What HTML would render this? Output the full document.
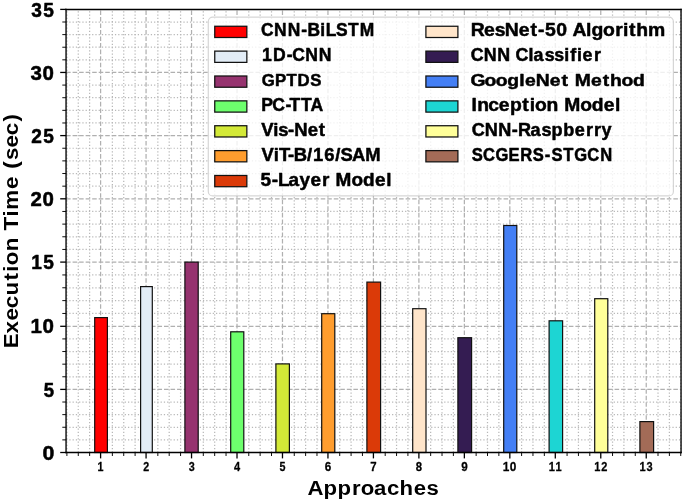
<!DOCTYPE html>
<html><head><meta charset="utf-8"><title>Execution Time Chart</title>
<style>html,body{margin:0;padding:0;background:#fff;} svg{display:block;will-change:transform;} text{font-family:"Liberation Sans",sans-serif;font-weight:bold;}</style>
</head><body>
<svg width="685" height="502" viewBox="0 0 685 502">
<rect x="0" y="0" width="685" height="502" fill="#fff"/>
<g><line x1="66.90" y1="452.50" x2="66.90" y2="9.45" stroke="#b8b8b8" stroke-width="1.23" stroke-dasharray="1.23 2.03"/><line x1="78.27" y1="452.50" x2="78.27" y2="9.45" stroke="#b8b8b8" stroke-width="1.23" stroke-dasharray="1.23 2.03"/><line x1="89.63" y1="452.50" x2="89.63" y2="9.45" stroke="#b8b8b8" stroke-width="1.23" stroke-dasharray="1.23 2.03"/><line x1="112.37" y1="452.50" x2="112.37" y2="9.45" stroke="#b8b8b8" stroke-width="1.23" stroke-dasharray="1.23 2.03"/><line x1="123.73" y1="452.50" x2="123.73" y2="9.45" stroke="#b8b8b8" stroke-width="1.23" stroke-dasharray="1.23 2.03"/><line x1="135.10" y1="452.50" x2="135.10" y2="9.45" stroke="#b8b8b8" stroke-width="1.23" stroke-dasharray="1.23 2.03"/><line x1="157.84" y1="452.50" x2="157.84" y2="9.45" stroke="#b8b8b8" stroke-width="1.23" stroke-dasharray="1.23 2.03"/><line x1="169.20" y1="452.50" x2="169.20" y2="9.45" stroke="#b8b8b8" stroke-width="1.23" stroke-dasharray="1.23 2.03"/><line x1="180.57" y1="452.50" x2="180.57" y2="9.45" stroke="#b8b8b8" stroke-width="1.23" stroke-dasharray="1.23 2.03"/><line x1="203.31" y1="452.50" x2="203.31" y2="9.45" stroke="#b8b8b8" stroke-width="1.23" stroke-dasharray="1.23 2.03"/><line x1="214.68" y1="452.50" x2="214.68" y2="9.45" stroke="#b8b8b8" stroke-width="1.23" stroke-dasharray="1.23 2.03"/><line x1="226.04" y1="452.50" x2="226.04" y2="9.45" stroke="#b8b8b8" stroke-width="1.23" stroke-dasharray="1.23 2.03"/><line x1="248.78" y1="452.50" x2="248.78" y2="9.45" stroke="#b8b8b8" stroke-width="1.23" stroke-dasharray="1.23 2.03"/><line x1="260.14" y1="452.50" x2="260.14" y2="9.45" stroke="#b8b8b8" stroke-width="1.23" stroke-dasharray="1.23 2.03"/><line x1="271.51" y1="452.50" x2="271.51" y2="9.45" stroke="#b8b8b8" stroke-width="1.23" stroke-dasharray="1.23 2.03"/><line x1="294.25" y1="452.50" x2="294.25" y2="9.45" stroke="#b8b8b8" stroke-width="1.23" stroke-dasharray="1.23 2.03"/><line x1="305.62" y1="452.50" x2="305.62" y2="9.45" stroke="#b8b8b8" stroke-width="1.23" stroke-dasharray="1.23 2.03"/><line x1="316.98" y1="452.50" x2="316.98" y2="9.45" stroke="#b8b8b8" stroke-width="1.23" stroke-dasharray="1.23 2.03"/><line x1="339.72" y1="452.50" x2="339.72" y2="9.45" stroke="#b8b8b8" stroke-width="1.23" stroke-dasharray="1.23 2.03"/><line x1="351.08" y1="452.50" x2="351.08" y2="9.45" stroke="#b8b8b8" stroke-width="1.23" stroke-dasharray="1.23 2.03"/><line x1="362.45" y1="452.50" x2="362.45" y2="9.45" stroke="#b8b8b8" stroke-width="1.23" stroke-dasharray="1.23 2.03"/><line x1="385.19" y1="452.50" x2="385.19" y2="9.45" stroke="#b8b8b8" stroke-width="1.23" stroke-dasharray="1.23 2.03"/><line x1="396.56" y1="452.50" x2="396.56" y2="9.45" stroke="#b8b8b8" stroke-width="1.23" stroke-dasharray="1.23 2.03"/><line x1="407.92" y1="452.50" x2="407.92" y2="9.45" stroke="#b8b8b8" stroke-width="1.23" stroke-dasharray="1.23 2.03"/><line x1="430.66" y1="452.50" x2="430.66" y2="9.45" stroke="#b8b8b8" stroke-width="1.23" stroke-dasharray="1.23 2.03"/><line x1="442.02" y1="452.50" x2="442.02" y2="9.45" stroke="#b8b8b8" stroke-width="1.23" stroke-dasharray="1.23 2.03"/><line x1="453.39" y1="452.50" x2="453.39" y2="9.45" stroke="#b8b8b8" stroke-width="1.23" stroke-dasharray="1.23 2.03"/><line x1="476.13" y1="452.50" x2="476.13" y2="9.45" stroke="#b8b8b8" stroke-width="1.23" stroke-dasharray="1.23 2.03"/><line x1="487.50" y1="452.50" x2="487.50" y2="9.45" stroke="#b8b8b8" stroke-width="1.23" stroke-dasharray="1.23 2.03"/><line x1="498.86" y1="452.50" x2="498.86" y2="9.45" stroke="#b8b8b8" stroke-width="1.23" stroke-dasharray="1.23 2.03"/><line x1="521.60" y1="452.50" x2="521.60" y2="9.45" stroke="#b8b8b8" stroke-width="1.23" stroke-dasharray="1.23 2.03"/><line x1="532.96" y1="452.50" x2="532.96" y2="9.45" stroke="#b8b8b8" stroke-width="1.23" stroke-dasharray="1.23 2.03"/><line x1="544.33" y1="452.50" x2="544.33" y2="9.45" stroke="#b8b8b8" stroke-width="1.23" stroke-dasharray="1.23 2.03"/><line x1="567.07" y1="452.50" x2="567.07" y2="9.45" stroke="#b8b8b8" stroke-width="1.23" stroke-dasharray="1.23 2.03"/><line x1="578.43" y1="452.50" x2="578.43" y2="9.45" stroke="#b8b8b8" stroke-width="1.23" stroke-dasharray="1.23 2.03"/><line x1="589.80" y1="452.50" x2="589.80" y2="9.45" stroke="#b8b8b8" stroke-width="1.23" stroke-dasharray="1.23 2.03"/><line x1="612.54" y1="452.50" x2="612.54" y2="9.45" stroke="#b8b8b8" stroke-width="1.23" stroke-dasharray="1.23 2.03"/><line x1="623.90" y1="452.50" x2="623.90" y2="9.45" stroke="#b8b8b8" stroke-width="1.23" stroke-dasharray="1.23 2.03"/><line x1="635.27" y1="452.50" x2="635.27" y2="9.45" stroke="#b8b8b8" stroke-width="1.23" stroke-dasharray="1.23 2.03"/><line x1="658.01" y1="452.50" x2="658.01" y2="9.45" stroke="#b8b8b8" stroke-width="1.23" stroke-dasharray="1.23 2.03"/><line x1="669.38" y1="452.50" x2="669.38" y2="9.45" stroke="#b8b8b8" stroke-width="1.23" stroke-dasharray="1.23 2.03"/><line x1="680.74" y1="452.50" x2="680.74" y2="9.45" stroke="#b8b8b8" stroke-width="1.23" stroke-dasharray="1.23 2.03"/><line x1="66.05" y1="439.88" x2="681.05" y2="439.88" stroke="#b8b8b8" stroke-width="1.23" stroke-dasharray="1.23 2.03"/><line x1="66.05" y1="427.26" x2="681.05" y2="427.26" stroke="#b8b8b8" stroke-width="1.23" stroke-dasharray="1.23 2.03"/><line x1="66.05" y1="414.64" x2="681.05" y2="414.64" stroke="#b8b8b8" stroke-width="1.23" stroke-dasharray="1.23 2.03"/><line x1="66.05" y1="402.02" x2="681.05" y2="402.02" stroke="#b8b8b8" stroke-width="1.23" stroke-dasharray="1.23 2.03"/><line x1="66.05" y1="376.78" x2="681.05" y2="376.78" stroke="#b8b8b8" stroke-width="1.23" stroke-dasharray="1.23 2.03"/><line x1="66.05" y1="364.16" x2="681.05" y2="364.16" stroke="#b8b8b8" stroke-width="1.23" stroke-dasharray="1.23 2.03"/><line x1="66.05" y1="351.54" x2="681.05" y2="351.54" stroke="#b8b8b8" stroke-width="1.23" stroke-dasharray="1.23 2.03"/><line x1="66.05" y1="338.92" x2="681.05" y2="338.92" stroke="#b8b8b8" stroke-width="1.23" stroke-dasharray="1.23 2.03"/><line x1="66.05" y1="313.46" x2="681.05" y2="313.46" stroke="#b8b8b8" stroke-width="1.23" stroke-dasharray="1.23 2.03"/><line x1="66.05" y1="300.62" x2="681.05" y2="300.62" stroke="#b8b8b8" stroke-width="1.23" stroke-dasharray="1.23 2.03"/><line x1="66.05" y1="287.78" x2="681.05" y2="287.78" stroke="#b8b8b8" stroke-width="1.23" stroke-dasharray="1.23 2.03"/><line x1="66.05" y1="274.94" x2="681.05" y2="274.94" stroke="#b8b8b8" stroke-width="1.23" stroke-dasharray="1.23 2.03"/><line x1="66.05" y1="249.44" x2="681.05" y2="249.44" stroke="#b8b8b8" stroke-width="1.23" stroke-dasharray="1.23 2.03"/><line x1="66.05" y1="236.78" x2="681.05" y2="236.78" stroke="#b8b8b8" stroke-width="1.23" stroke-dasharray="1.23 2.03"/><line x1="66.05" y1="224.12" x2="681.05" y2="224.12" stroke="#b8b8b8" stroke-width="1.23" stroke-dasharray="1.23 2.03"/><line x1="66.05" y1="211.46" x2="681.05" y2="211.46" stroke="#b8b8b8" stroke-width="1.23" stroke-dasharray="1.23 2.03"/><line x1="66.05" y1="186.16" x2="681.05" y2="186.16" stroke="#b8b8b8" stroke-width="1.23" stroke-dasharray="1.23 2.03"/><line x1="66.05" y1="173.52" x2="681.05" y2="173.52" stroke="#b8b8b8" stroke-width="1.23" stroke-dasharray="1.23 2.03"/><line x1="66.05" y1="160.88" x2="681.05" y2="160.88" stroke="#b8b8b8" stroke-width="1.23" stroke-dasharray="1.23 2.03"/><line x1="66.05" y1="148.24" x2="681.05" y2="148.24" stroke="#b8b8b8" stroke-width="1.23" stroke-dasharray="1.23 2.03"/><line x1="66.05" y1="122.97" x2="681.05" y2="122.97" stroke="#b8b8b8" stroke-width="1.23" stroke-dasharray="1.23 2.03"/><line x1="66.05" y1="110.34" x2="681.05" y2="110.34" stroke="#b8b8b8" stroke-width="1.23" stroke-dasharray="1.23 2.03"/><line x1="66.05" y1="97.71" x2="681.05" y2="97.71" stroke="#b8b8b8" stroke-width="1.23" stroke-dasharray="1.23 2.03"/><line x1="66.05" y1="85.08" x2="681.05" y2="85.08" stroke="#b8b8b8" stroke-width="1.23" stroke-dasharray="1.23 2.03"/><line x1="66.05" y1="59.84" x2="681.05" y2="59.84" stroke="#b8b8b8" stroke-width="1.23" stroke-dasharray="1.23 2.03"/><line x1="66.05" y1="47.23" x2="681.05" y2="47.23" stroke="#b8b8b8" stroke-width="1.23" stroke-dasharray="1.23 2.03"/><line x1="66.05" y1="34.62" x2="681.05" y2="34.62" stroke="#b8b8b8" stroke-width="1.23" stroke-dasharray="1.23 2.03"/><line x1="66.05" y1="22.01" x2="681.05" y2="22.01" stroke="#b8b8b8" stroke-width="1.23" stroke-dasharray="1.23 2.03"/><line x1="100.60" y1="452.50" x2="100.60" y2="9.45" stroke="#b0b0b0" stroke-width="1.23" stroke-dasharray="4.56 1.97"/><line x1="146.07" y1="452.50" x2="146.07" y2="9.45" stroke="#b0b0b0" stroke-width="1.23" stroke-dasharray="4.56 1.97"/><line x1="191.54" y1="452.50" x2="191.54" y2="9.45" stroke="#b0b0b0" stroke-width="1.23" stroke-dasharray="4.56 1.97"/><line x1="237.01" y1="452.50" x2="237.01" y2="9.45" stroke="#b0b0b0" stroke-width="1.23" stroke-dasharray="4.56 1.97"/><line x1="282.48" y1="452.50" x2="282.48" y2="9.45" stroke="#b0b0b0" stroke-width="1.23" stroke-dasharray="4.56 1.97"/><line x1="327.95" y1="452.50" x2="327.95" y2="9.45" stroke="#b0b0b0" stroke-width="1.23" stroke-dasharray="4.56 1.97"/><line x1="373.42" y1="452.50" x2="373.42" y2="9.45" stroke="#b0b0b0" stroke-width="1.23" stroke-dasharray="4.56 1.97"/><line x1="418.89" y1="452.50" x2="418.89" y2="9.45" stroke="#b0b0b0" stroke-width="1.23" stroke-dasharray="4.56 1.97"/><line x1="464.36" y1="452.50" x2="464.36" y2="9.45" stroke="#b0b0b0" stroke-width="1.23" stroke-dasharray="4.56 1.97"/><line x1="509.83" y1="452.50" x2="509.83" y2="9.45" stroke="#b0b0b0" stroke-width="1.23" stroke-dasharray="4.56 1.97"/><line x1="555.30" y1="452.50" x2="555.30" y2="9.45" stroke="#b0b0b0" stroke-width="1.23" stroke-dasharray="4.56 1.97"/><line x1="600.77" y1="452.50" x2="600.77" y2="9.45" stroke="#b0b0b0" stroke-width="1.23" stroke-dasharray="4.56 1.97"/><line x1="646.24" y1="452.50" x2="646.24" y2="9.45" stroke="#b0b0b0" stroke-width="1.23" stroke-dasharray="4.56 1.97"/><line x1="66.05" y1="389.40" x2="681.05" y2="389.40" stroke="#b0b0b0" stroke-width="1.23" stroke-dasharray="4.56 1.97"/><line x1="66.05" y1="326.30" x2="681.05" y2="326.30" stroke="#b0b0b0" stroke-width="1.23" stroke-dasharray="4.56 1.97"/><line x1="66.05" y1="262.10" x2="681.05" y2="262.10" stroke="#b0b0b0" stroke-width="1.23" stroke-dasharray="4.56 1.97"/><line x1="66.05" y1="198.80" x2="681.05" y2="198.80" stroke="#b0b0b0" stroke-width="1.23" stroke-dasharray="4.56 1.97"/><line x1="66.05" y1="135.60" x2="681.05" y2="135.60" stroke="#b0b0b0" stroke-width="1.23" stroke-dasharray="4.56 1.97"/><line x1="66.05" y1="72.45" x2="681.05" y2="72.45" stroke="#b0b0b0" stroke-width="1.23" stroke-dasharray="4.56 1.97"/></g>
<rect x="94.70" y="317.60" width="12.70" height="134.90" fill="#ff0000" stroke="#111" stroke-width="1.2"/>
<rect x="140.60" y="286.60" width="11.70" height="165.90" fill="#e2ecf6" stroke="#111" stroke-width="1.2"/>
<rect x="184.90" y="262.10" width="13.30" height="190.40" fill="#96336f" stroke="#111" stroke-width="1.2"/>
<rect x="230.70" y="331.80" width="13.10" height="120.70" fill="#6dff6d" stroke="#111" stroke-width="1.2"/>
<rect x="275.90" y="363.90" width="13.50" height="88.60" fill="#d3e937" stroke="#111" stroke-width="1.2"/>
<rect x="321.70" y="313.70" width="13.10" height="138.80" fill="#ff9d2e" stroke="#111" stroke-width="1.2"/>
<rect x="366.90" y="282.10" width="13.70" height="170.40" fill="#db3a08" stroke="#111" stroke-width="1.2"/>
<rect x="412.70" y="308.70" width="13.30" height="143.80" fill="#ffe5ca" stroke="#111" stroke-width="1.2"/>
<rect x="457.90" y="337.70" width="13.70" height="114.80" fill="#341c52" stroke="#111" stroke-width="1.2"/>
<rect x="503.70" y="225.50" width="13.10" height="227.00" fill="#447ff5" stroke="#111" stroke-width="1.2"/>
<rect x="549.10" y="320.80" width="13.50" height="131.70" fill="#1dd5d3" stroke="#111" stroke-width="1.2"/>
<rect x="594.70" y="298.70" width="13.10" height="153.80" fill="#ffff99" stroke="#111" stroke-width="1.2"/>
<rect x="639.90" y="421.60" width="13.70" height="30.90" fill="#a36b57" stroke="#111" stroke-width="1.2"/>
<g stroke="#000" stroke-width="1.35" stroke-linecap="square"><line x1="66.05" y1="9.45" x2="66.05" y2="452.5"/><line x1="681.05" y1="9.45" x2="681.05" y2="452.5"/><line x1="66.05" y1="9.45" x2="681.05" y2="9.45"/><line x1="66.05" y1="452.5" x2="681.05" y2="452.5"/></g>
<g><line x1="60.2" y1="452.50" x2="66.05" y2="452.50" stroke="#000" stroke-width="1.3"/><line x1="60.2" y1="389.40" x2="66.05" y2="389.40" stroke="#000" stroke-width="1.3"/><line x1="60.2" y1="326.30" x2="66.05" y2="326.30" stroke="#000" stroke-width="1.3"/><line x1="60.2" y1="262.10" x2="66.05" y2="262.10" stroke="#000" stroke-width="1.3"/><line x1="60.2" y1="198.80" x2="66.05" y2="198.80" stroke="#000" stroke-width="1.3"/><line x1="60.2" y1="135.60" x2="66.05" y2="135.60" stroke="#000" stroke-width="1.3"/><line x1="60.2" y1="72.45" x2="66.05" y2="72.45" stroke="#000" stroke-width="1.3"/><line x1="60.2" y1="9.40" x2="66.05" y2="9.40" stroke="#000" stroke-width="1.3"/><line x1="62.3" y1="439.88" x2="66.05" y2="439.88" stroke="#000" stroke-width="0.95"/><line x1="62.3" y1="427.26" x2="66.05" y2="427.26" stroke="#000" stroke-width="0.95"/><line x1="62.3" y1="414.64" x2="66.05" y2="414.64" stroke="#000" stroke-width="0.95"/><line x1="62.3" y1="402.02" x2="66.05" y2="402.02" stroke="#000" stroke-width="0.95"/><line x1="62.3" y1="376.78" x2="66.05" y2="376.78" stroke="#000" stroke-width="0.95"/><line x1="62.3" y1="364.16" x2="66.05" y2="364.16" stroke="#000" stroke-width="0.95"/><line x1="62.3" y1="351.54" x2="66.05" y2="351.54" stroke="#000" stroke-width="0.95"/><line x1="62.3" y1="338.92" x2="66.05" y2="338.92" stroke="#000" stroke-width="0.95"/><line x1="62.3" y1="313.46" x2="66.05" y2="313.46" stroke="#000" stroke-width="0.95"/><line x1="62.3" y1="300.62" x2="66.05" y2="300.62" stroke="#000" stroke-width="0.95"/><line x1="62.3" y1="287.78" x2="66.05" y2="287.78" stroke="#000" stroke-width="0.95"/><line x1="62.3" y1="274.94" x2="66.05" y2="274.94" stroke="#000" stroke-width="0.95"/><line x1="62.3" y1="249.44" x2="66.05" y2="249.44" stroke="#000" stroke-width="0.95"/><line x1="62.3" y1="236.78" x2="66.05" y2="236.78" stroke="#000" stroke-width="0.95"/><line x1="62.3" y1="224.12" x2="66.05" y2="224.12" stroke="#000" stroke-width="0.95"/><line x1="62.3" y1="211.46" x2="66.05" y2="211.46" stroke="#000" stroke-width="0.95"/><line x1="62.3" y1="186.16" x2="66.05" y2="186.16" stroke="#000" stroke-width="0.95"/><line x1="62.3" y1="173.52" x2="66.05" y2="173.52" stroke="#000" stroke-width="0.95"/><line x1="62.3" y1="160.88" x2="66.05" y2="160.88" stroke="#000" stroke-width="0.95"/><line x1="62.3" y1="148.24" x2="66.05" y2="148.24" stroke="#000" stroke-width="0.95"/><line x1="62.3" y1="122.97" x2="66.05" y2="122.97" stroke="#000" stroke-width="0.95"/><line x1="62.3" y1="110.34" x2="66.05" y2="110.34" stroke="#000" stroke-width="0.95"/><line x1="62.3" y1="97.71" x2="66.05" y2="97.71" stroke="#000" stroke-width="0.95"/><line x1="62.3" y1="85.08" x2="66.05" y2="85.08" stroke="#000" stroke-width="0.95"/><line x1="62.3" y1="59.84" x2="66.05" y2="59.84" stroke="#000" stroke-width="0.95"/><line x1="62.3" y1="47.23" x2="66.05" y2="47.23" stroke="#000" stroke-width="0.95"/><line x1="62.3" y1="34.62" x2="66.05" y2="34.62" stroke="#000" stroke-width="0.95"/><line x1="62.3" y1="22.01" x2="66.05" y2="22.01" stroke="#000" stroke-width="0.95"/><line x1="100.60" y1="452.50" x2="100.60" y2="458.4" stroke="#000" stroke-width="1.3"/><line x1="146.07" y1="452.50" x2="146.07" y2="458.4" stroke="#000" stroke-width="1.3"/><line x1="191.54" y1="452.50" x2="191.54" y2="458.4" stroke="#000" stroke-width="1.3"/><line x1="237.01" y1="452.50" x2="237.01" y2="458.4" stroke="#000" stroke-width="1.3"/><line x1="282.48" y1="452.50" x2="282.48" y2="458.4" stroke="#000" stroke-width="1.3"/><line x1="327.95" y1="452.50" x2="327.95" y2="458.4" stroke="#000" stroke-width="1.3"/><line x1="373.42" y1="452.50" x2="373.42" y2="458.4" stroke="#000" stroke-width="1.3"/><line x1="418.89" y1="452.50" x2="418.89" y2="458.4" stroke="#000" stroke-width="1.3"/><line x1="464.36" y1="452.50" x2="464.36" y2="458.4" stroke="#000" stroke-width="1.3"/><line x1="509.83" y1="452.50" x2="509.83" y2="458.4" stroke="#000" stroke-width="1.3"/><line x1="555.30" y1="452.50" x2="555.30" y2="458.4" stroke="#000" stroke-width="1.3"/><line x1="600.77" y1="452.50" x2="600.77" y2="458.4" stroke="#000" stroke-width="1.3"/><line x1="646.24" y1="452.50" x2="646.24" y2="458.4" stroke="#000" stroke-width="1.3"/><line x1="66.90" y1="452.50" x2="66.90" y2="456.0" stroke="#000" stroke-width="0.95"/><line x1="78.27" y1="452.50" x2="78.27" y2="456.0" stroke="#000" stroke-width="0.95"/><line x1="89.63" y1="452.50" x2="89.63" y2="456.0" stroke="#000" stroke-width="0.95"/><line x1="112.37" y1="452.50" x2="112.37" y2="456.0" stroke="#000" stroke-width="0.95"/><line x1="123.73" y1="452.50" x2="123.73" y2="456.0" stroke="#000" stroke-width="0.95"/><line x1="135.10" y1="452.50" x2="135.10" y2="456.0" stroke="#000" stroke-width="0.95"/><line x1="157.84" y1="452.50" x2="157.84" y2="456.0" stroke="#000" stroke-width="0.95"/><line x1="169.20" y1="452.50" x2="169.20" y2="456.0" stroke="#000" stroke-width="0.95"/><line x1="180.57" y1="452.50" x2="180.57" y2="456.0" stroke="#000" stroke-width="0.95"/><line x1="203.31" y1="452.50" x2="203.31" y2="456.0" stroke="#000" stroke-width="0.95"/><line x1="214.68" y1="452.50" x2="214.68" y2="456.0" stroke="#000" stroke-width="0.95"/><line x1="226.04" y1="452.50" x2="226.04" y2="456.0" stroke="#000" stroke-width="0.95"/><line x1="248.78" y1="452.50" x2="248.78" y2="456.0" stroke="#000" stroke-width="0.95"/><line x1="260.14" y1="452.50" x2="260.14" y2="456.0" stroke="#000" stroke-width="0.95"/><line x1="271.51" y1="452.50" x2="271.51" y2="456.0" stroke="#000" stroke-width="0.95"/><line x1="294.25" y1="452.50" x2="294.25" y2="456.0" stroke="#000" stroke-width="0.95"/><line x1="305.62" y1="452.50" x2="305.62" y2="456.0" stroke="#000" stroke-width="0.95"/><line x1="316.98" y1="452.50" x2="316.98" y2="456.0" stroke="#000" stroke-width="0.95"/><line x1="339.72" y1="452.50" x2="339.72" y2="456.0" stroke="#000" stroke-width="0.95"/><line x1="351.08" y1="452.50" x2="351.08" y2="456.0" stroke="#000" stroke-width="0.95"/><line x1="362.45" y1="452.50" x2="362.45" y2="456.0" stroke="#000" stroke-width="0.95"/><line x1="385.19" y1="452.50" x2="385.19" y2="456.0" stroke="#000" stroke-width="0.95"/><line x1="396.56" y1="452.50" x2="396.56" y2="456.0" stroke="#000" stroke-width="0.95"/><line x1="407.92" y1="452.50" x2="407.92" y2="456.0" stroke="#000" stroke-width="0.95"/><line x1="430.66" y1="452.50" x2="430.66" y2="456.0" stroke="#000" stroke-width="0.95"/><line x1="442.02" y1="452.50" x2="442.02" y2="456.0" stroke="#000" stroke-width="0.95"/><line x1="453.39" y1="452.50" x2="453.39" y2="456.0" stroke="#000" stroke-width="0.95"/><line x1="476.13" y1="452.50" x2="476.13" y2="456.0" stroke="#000" stroke-width="0.95"/><line x1="487.50" y1="452.50" x2="487.50" y2="456.0" stroke="#000" stroke-width="0.95"/><line x1="498.86" y1="452.50" x2="498.86" y2="456.0" stroke="#000" stroke-width="0.95"/><line x1="521.60" y1="452.50" x2="521.60" y2="456.0" stroke="#000" stroke-width="0.95"/><line x1="532.96" y1="452.50" x2="532.96" y2="456.0" stroke="#000" stroke-width="0.95"/><line x1="544.33" y1="452.50" x2="544.33" y2="456.0" stroke="#000" stroke-width="0.95"/><line x1="567.07" y1="452.50" x2="567.07" y2="456.0" stroke="#000" stroke-width="0.95"/><line x1="578.43" y1="452.50" x2="578.43" y2="456.0" stroke="#000" stroke-width="0.95"/><line x1="589.80" y1="452.50" x2="589.80" y2="456.0" stroke="#000" stroke-width="0.95"/><line x1="612.54" y1="452.50" x2="612.54" y2="456.0" stroke="#000" stroke-width="0.95"/><line x1="623.90" y1="452.50" x2="623.90" y2="456.0" stroke="#000" stroke-width="0.95"/><line x1="635.27" y1="452.50" x2="635.27" y2="456.0" stroke="#000" stroke-width="0.95"/><line x1="658.01" y1="452.50" x2="658.01" y2="456.0" stroke="#000" stroke-width="0.95"/><line x1="669.38" y1="452.50" x2="669.38" y2="456.0" stroke="#000" stroke-width="0.95"/><line x1="680.74" y1="452.50" x2="680.74" y2="456.0" stroke="#000" stroke-width="0.95"/></g>
<g font-family="Liberation Sans, sans-serif" font-weight="bold" fill="#000"><text transform="translate(0,459.60) scale(1.0660,1.0174)" x="39.84" y="0" font-size="20" stroke="#000" stroke-width="0.480" stroke-linejoin="round">0</text><text transform="translate(0,396.50) scale(0.9276,1.0174)" x="47.06" y="0" font-size="20" stroke="#000" stroke-width="0.515" stroke-linejoin="round">5</text><text transform="translate(0,333.40) scale(1.0258,1.0174)" x="29.75 41.49" y="0" font-size="20" stroke="#000" stroke-width="0.489" stroke-linejoin="round">10</text><text transform="translate(0,269.20) scale(0.9558,1.0174)" x="32.76 45.36" y="0" font-size="20" stroke="#000" stroke-width="0.507" stroke-linejoin="round">15</text><text transform="translate(0,205.90) scale(1.0233,1.0174)" x="29.79 41.60" y="0" font-size="20" stroke="#000" stroke-width="0.490" stroke-linejoin="round">20</text><text transform="translate(0,142.70) scale(0.9545,1.0174)" x="32.74 45.42" y="0" font-size="20" stroke="#000" stroke-width="0.507" stroke-linejoin="round">25</text><text transform="translate(0,79.55) scale(1.0245,1.0174)" x="29.78 41.55" y="0" font-size="20" stroke="#000" stroke-width="0.490" stroke-linejoin="round">30</text><text transform="translate(0,16.50) scale(0.9568,1.0174)" x="32.68 45.30" y="0" font-size="20" stroke="#000" stroke-width="0.507" stroke-linejoin="round">35</text><text transform="translate(0,471.07) scale(0.5367,0.6214)" x="181.73" y="0" font-size="20" stroke="#000" stroke-width="0.433" stroke-linejoin="round">1</text><text transform="translate(0,471.07) scale(0.5352,0.6214)" x="267.58" y="0" font-size="20" stroke="#000" stroke-width="0.434" stroke-linejoin="round">2</text><text transform="translate(0,471.07) scale(0.5385,0.6214)" x="350.48" y="0" font-size="20" stroke="#000" stroke-width="0.432" stroke-linejoin="round">3</text><text transform="translate(0,471.07) scale(0.5527,0.6214)" x="423.36" y="0" font-size="20" stroke="#000" stroke-width="0.427" stroke-linejoin="round">4</text><text transform="translate(0,471.07) scale(0.5374,0.6214)" x="520.21" y="0" font-size="20" stroke="#000" stroke-width="0.433" stroke-linejoin="round">5</text><text transform="translate(0,471.07) scale(0.5861,0.6214)" x="554.11" y="0" font-size="20" stroke="#000" stroke-width="0.414" stroke-linejoin="round">6</text><text transform="translate(0,471.07) scale(0.5704,0.6214)" x="649.29" y="0" font-size="20" stroke="#000" stroke-width="0.420" stroke-linejoin="round">7</text><text transform="translate(0,471.07) scale(0.5664,0.6214)" x="734.17" y="0" font-size="20" stroke="#000" stroke-width="0.421" stroke-linejoin="round">8</text><text transform="translate(0,471.07) scale(0.5850,0.6214)" x="788.47" y="0" font-size="20" stroke="#000" stroke-width="0.415" stroke-linejoin="round">9</text><text transform="translate(0,471.07) scale(0.5919,0.6214)" x="849.51 861.25" y="0" font-size="20" stroke="#000" stroke-width="0.412" stroke-linejoin="round">10</text><text transform="translate(0,471.07) scale(0.5521,0.6214)" x="993.77 1006.36" y="0" font-size="20" stroke="#000" stroke-width="0.427" stroke-linejoin="round">11</text><text transform="translate(0,471.07) scale(0.5508,0.6214)" x="1078.89 1091.45" y="0" font-size="20" stroke="#000" stroke-width="0.427" stroke-linejoin="round">12</text><text transform="translate(0,471.07) scale(0.5520,0.6214)" x="1158.70 1171.27" y="0" font-size="20" stroke="#000" stroke-width="0.427" stroke-linejoin="round">13</text><text transform="translate(0,494.70) scale(1.1078,1.0174)" x="277.53 291.94 304.65 317.71 325.75 337.71 349.32 360.64 373.45 384.95" y="0" font-size="20">Approaches</text></g>
<g font-family="Liberation Sans, sans-serif" font-weight="bold" fill="#000"><text transform="translate(17.70,0) rotate(-90) scale(1.1159,1.0392)" x="-312.03 -298.97 -287.28 -276.17 -264.79 -251.48 -243.52 -237.68 -225.20 -212.99 -206.60 -194.12 -187.90 -169.34 -158.21 -151.12 -143.44 -132.29 -121.18 -108.85" y="0" font-size="20">Execution Time (sec)</text></g>
<rect x="208.3" y="17.2" width="465.10" height="178.70" rx="4.5" ry="4.5" fill="#fff" fill-opacity="0.8" stroke="#cccccc" stroke-opacity="0.8" stroke-width="1.2"/>
<g font-family="Liberation Sans, sans-serif" font-weight="bold" fill="#000"><rect x="214.75" y="26.25" width="32.10" height="11.25" fill="#ff0000" stroke="#111" stroke-width="1.25"/><text transform="translate(0,35.75) scale(0.8703,0.8721)" x="299.90 314.88 330.56 346.19 353.30 368.12 374.20 386.20 399.80 413.29" y="0" font-size="20" stroke="#000" stroke-width="0.574" stroke-linejoin="round">CNN-BiLSTM</text><rect x="214.75" y="51.12" width="32.10" height="11.25" fill="#e2ecf6" stroke="#111" stroke-width="1.25"/><text transform="translate(0,61.25) scale(0.8778,0.8721)" x="298.49 310.95 326.54 332.95 347.69 363.11" y="0" font-size="20" stroke="#000" stroke-width="0.571" stroke-linejoin="round">1D-CNN</text><rect x="214.75" y="75.99" width="32.10" height="11.25" fill="#96336f" stroke="#111" stroke-width="1.25"/><text transform="translate(0,85.75) scale(0.8378,0.8212)" x="312.36 328.27 342.00 355.26 370.37" y="0" font-size="20" stroke="#000" stroke-width="0.603" stroke-linejoin="round">GPTDS</text><rect x="214.75" y="100.86" width="32.10" height="11.25" fill="#6dff6d" stroke="#111" stroke-width="1.25"/><text transform="translate(0,111.45) scale(0.8809,0.9157)" x="296.65 309.11 324.19 328.74 341.63 352.43" y="0" font-size="20" stroke="#000" stroke-width="0.557" stroke-linejoin="round">PC-TTA</text><rect x="214.75" y="125.73" width="32.10" height="11.25" fill="#d3e937" stroke="#111" stroke-width="1.25"/><text transform="translate(0,135.95) scale(0.9245,0.8721)" x="282.61 295.68 300.94 311.65 318.37 332.78 344.83" y="0" font-size="20" stroke="#000" stroke-width="0.557" stroke-linejoin="round">Vis-Net</text><rect x="214.75" y="150.60" width="32.10" height="11.25" fill="#ff9d2e" stroke="#111" stroke-width="1.25"/><text transform="translate(0,161.25) scale(0.9210,0.9012)" x="283.89 297.25 302.87 312.69 319.05 333.38 339.91 352.12 364.11 369.80 382.24 396.58" y="0" font-size="20" stroke="#000" stroke-width="0.549" stroke-linejoin="round">ViT-B/16/SAM</text><rect x="214.75" y="175.47" width="32.10" height="11.25" fill="#db3a08" stroke="#111" stroke-width="1.25"/><text transform="translate(0,185.65) scale(0.9478,0.9302)" x="274.83 286.71 293.28 304.39 315.99 327.56 339.72 347.50 354.10 370.97 383.10 395.78 407.56" y="0" font-size="20" stroke="#000" stroke-width="0.532" stroke-linejoin="round">5-Layer Model</text><rect x="425.9" y="26.25" width="32.00" height="11.25" fill="#ffe5ca" stroke="#111" stroke-width="1.25"/><text transform="translate(0,35.75) scale(0.9686,0.8721)" x="485.97 499.70 510.72 521.14 535.59 547.66 555.35 562.58 574.40 585.52 591.15 605.08 610.67 622.67 635.11 643.15 649.49 656.88 669.03" y="0" font-size="20" stroke="#000" stroke-width="0.544" stroke-linejoin="round">ResNet-50 Algorithm</text><rect x="425.9" y="51.12" width="32.00" height="11.25" fill="#341c52" stroke="#111" stroke-width="1.25"/><text transform="translate(0,61.25) scale(0.8907,0.8721)" x="528.58 543.16 558.41 572.85 578.79 593.31 599.11 611.46 622.30 633.54 640.13 647.71 654.12 666.79" y="0" font-size="20" stroke="#000" stroke-width="0.567" stroke-linejoin="round">CNN Classifier</text><rect x="425.9" y="75.99" width="32.00" height="11.25" fill="#447ff5" stroke="#111" stroke-width="1.25"/><text transform="translate(0,85.75) scale(0.9666,0.8212)" x="486.71 501.22 512.93 524.81 537.24 543.05 554.40 568.87 580.97 587.63 594.53 611.47 623.56 630.98 642.93 654.79" y="0" font-size="20" stroke="#000" stroke-width="0.561" stroke-linejoin="round">GoogleNet Method</text><rect x="425.9" y="100.86" width="32.00" height="11.25" fill="#1dd5d3" stroke="#111" stroke-width="1.25"/><text transform="translate(0,111.45) scale(0.9646,0.9157)" x="488.72 494.68 506.06 517.14 528.69 541.51 549.17 554.64 566.61 578.82 584.92 601.53 613.43 625.89 637.51" y="0" font-size="20" stroke="#000" stroke-width="0.532" stroke-linejoin="round">Inception Model</text><rect x="425.9" y="125.73" width="32.00" height="11.25" fill="#ffff99" stroke="#111" stroke-width="1.25"/><text transform="translate(0,135.95) scale(0.9045,0.8721)" x="521.53 535.85 550.81 565.91 572.78 586.51 598.64 609.82 622.62 635.44 647.90 656.72 664.99" y="0" font-size="20" stroke="#000" stroke-width="0.563" stroke-linejoin="round">CNN-Raspberry</text><rect x="425.9" y="150.60" width="32.00" height="11.25" fill="#a36b57" stroke="#111" stroke-width="1.25"/><text transform="translate(0,161.25) scale(0.8284,0.9012)" x="569.58 583.03 598.08 613.97 628.12 643.23 657.71 665.66 679.98 693.14 708.80 724.60" y="0" font-size="20" stroke="#000" stroke-width="0.579" stroke-linejoin="round">SCGERS-STGCN</text></g>
</svg>
</body></html>
